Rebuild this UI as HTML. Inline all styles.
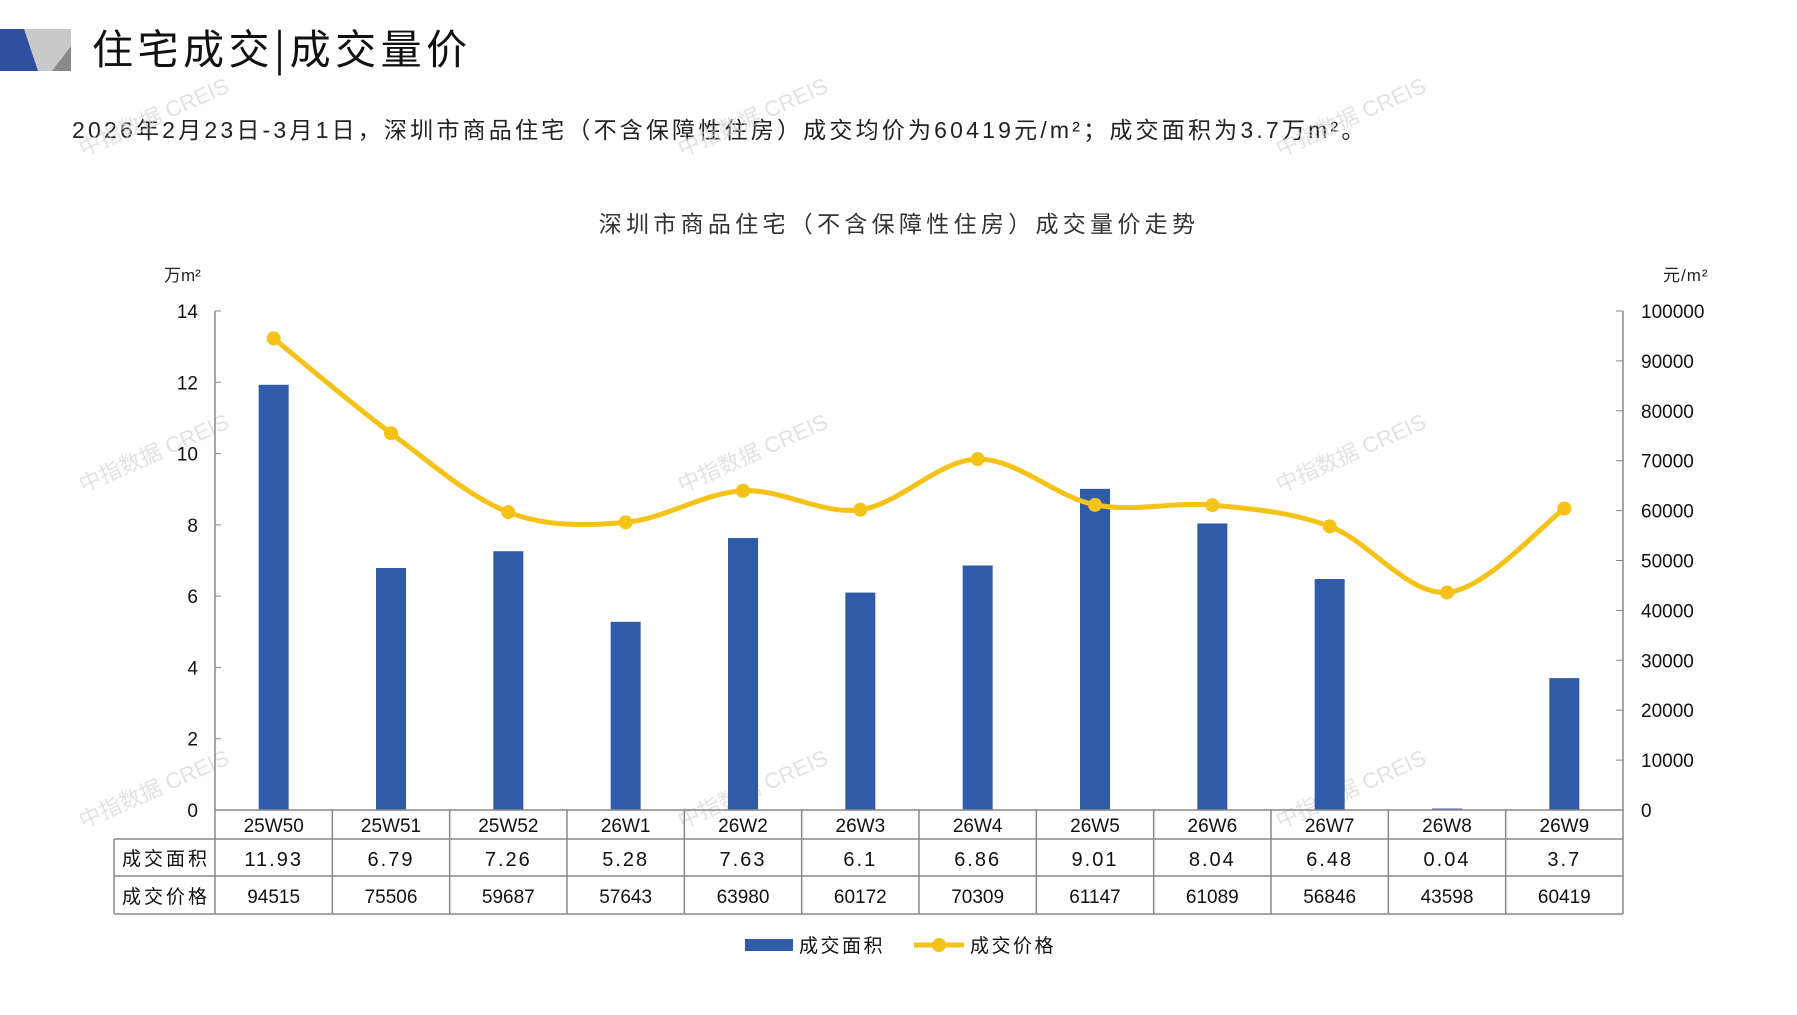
<!DOCTYPE html>
<html><head><meta charset="utf-8">
<style>
body{margin:0;background:#fff;width:1797px;height:1010px;overflow:hidden}
svg text{font-family:"Liberation Sans","Noto Sans CJK SC",sans-serif}
</style></head>
<body>
<svg id="s" width="1797" height="1010" xmlns="http://www.w3.org/2000/svg">
<polygon points="0,29 30,29 42,71 0,71" fill="#2f4fa0"/>
<polygon points="24,29 71,29 71,71 38,71" fill="#c9c9c9"/>
<polygon points="71,46 71,71 52,71" fill="#8a8a8a"/>
<text x="92" y="64" font-size="41" fill="#111" letter-spacing="4.5" style="font-family:'Noto Sans CJK SC',sans-serif">住宅成交|成交量价</text>
<text x="72" y="138" font-size="23" fill="#222" letter-spacing="3.2">2026年2月23日-3月1日，深圳市商品住宅（不含保障性住房）成交均价为60419元/m²；成交面积为3.7万m²。</text>
<text x="899" y="232" font-size="23" fill="#333" text-anchor="middle" letter-spacing="4.3">深圳市商品住宅（不含保障性住房）成交量价走势</text>
<text x="164" y="281" font-size="17" fill="#222">万m²</text>
<text x="1663" y="281" font-size="17" fill="#222" letter-spacing="1">元/m²</text>
<g id="g"></g>
</svg>
<script>
const g=document.getElementById('g');let h='';
const L=215,R=1623,T=311,B=810,cw=(R-L)/12;
const lab=['25W50','25W51','25W52','26W1','26W2','26W3','26W4','26W5','26W6','26W7','26W8','26W9'];
const a=[11.93,6.79,7.26,5.28,7.63,6.1,6.86,9.01,8.04,6.48,0.04,3.7];
const p=[94515,75506,59687,57643,63980,60172,70309,61147,61089,56846,43598,60419];
[[157,124],[756,124],[1354,124],[157,460],[756,460],[1354,460],[157,796],[756,796],[1354,796]].forEach(([x,y])=>{h+=`<text x="${x}" y="${y}" font-size="22" fill="#d6d6d6" opacity="0.7" text-anchor="middle" transform="rotate(-24 ${x} ${y})">中指数据 CREIS</text>`});
h+=`<line x1="${L}" y1="${T}" x2="${L}" y2="${B}" stroke="#888" stroke-width="1.5"/><line x1="${R}" y1="${T}" x2="${R}" y2="${B}" stroke="#888" stroke-width="1.5"/>`;
for(let i=0;i<=7;i++){const y=B-i*(B-T)/7;h+=`<line x1="${L}" y1="${y}" x2="${L+6}" y2="${y}" stroke="#888"/><text x="198" y="${y+7}" font-size="19" text-anchor="end" fill="#111">${i*2}</text>`}
for(let i=0;i<=10;i++){const y=B-i*(B-T)/10;h+=`<line x1="${R-7}" y1="${y}" x2="${R}" y2="${y}" stroke="#888"/><text x="1641" y="${y+7}" font-size="19" fill="#111">${i*10000}</text>`}
a.forEach((v,i)=>{const x=L+cw*(i+.5),hh=v/14*(B-T);h+=`<rect x="${x-15}" y="${B-hh}" width="30" height="${hh}" fill="#2f5ba8"/>`});
const pts=p.map((v,i)=>[L+cw*(i+.5),B-v/100000*(B-T)]);
let d=`M${pts[0][0]},${pts[0][1]}`;
for(let i=0;i<pts.length-1;i++){const p0=pts[i-1]||pts[i],p1=pts[i],p2=pts[i+1],p3=pts[i+2]||p2;const t=6;
d+=` C${p1[0]+(p2[0]-p0[0])/t},${p1[1]+(p2[1]-p0[1])/t} ${p2[0]-(p3[0]-p1[0])/t},${p2[1]-(p3[1]-p1[1])/t} ${p2[0]},${p2[1]}`}
h+=`<path d="${d}" fill="none" stroke="#f5c218" stroke-width="5"/>`;
pts.forEach(q=>h+=`<circle cx="${q[0]}" cy="${q[1]}" r="7" fill="#f5c218"/>`);
h+=`<g stroke="#888" stroke-width="1.5" fill="none">`;
h+=`<line x1="${L}" y1="810" x2="${R}" y2="810"/>`;
h+=`<line x1="114" y1="839" x2="${R}" y2="839"/><line x1="114" y1="876" x2="${R}" y2="876"/><line x1="114" y1="914" x2="${R}" y2="914"/>`;
h+=`<line x1="114" y1="839" x2="114" y2="914"/>`;
for(let i=0;i<=12;i++){const x=L+cw*i;h+=`<line x1="${x}" y1="810" x2="${x}" y2="914"/>`}
h+=`</g>`;
h+=`<text x="166" y="865" font-size="19" text-anchor="middle" fill="#111" letter-spacing="3">成交面积</text><text x="166" y="903" font-size="19" text-anchor="middle" fill="#111" letter-spacing="3">成交价格</text>`;
lab.forEach((s,i)=>{const x=L+cw*(i+.5);h+=`<text x="${x}" y="832" font-size="19" text-anchor="middle" fill="#111">${s}</text><text x="${x}" y="866" font-size="20" text-anchor="middle" fill="#111" letter-spacing="2">${a[i]}</text><text x="${x}" y="903" font-size="19" text-anchor="middle" fill="#111">${p[i]}</text>`});
h+=`<rect x="745" y="939" width="48" height="12" fill="#2f5ba8"/><text x="799" y="952" font-size="19" fill="#111" letter-spacing="2.5">成交面积</text>`;
h+=`<line x1="914" y1="945" x2="964" y2="945" stroke="#f5c218" stroke-width="5"/><circle cx="939" cy="945" r="7" fill="#f5c218"/><text x="970" y="952" font-size="19" fill="#111" letter-spacing="2.5">成交价格</text>`;
g.innerHTML=h;
</script>
</body></html>
